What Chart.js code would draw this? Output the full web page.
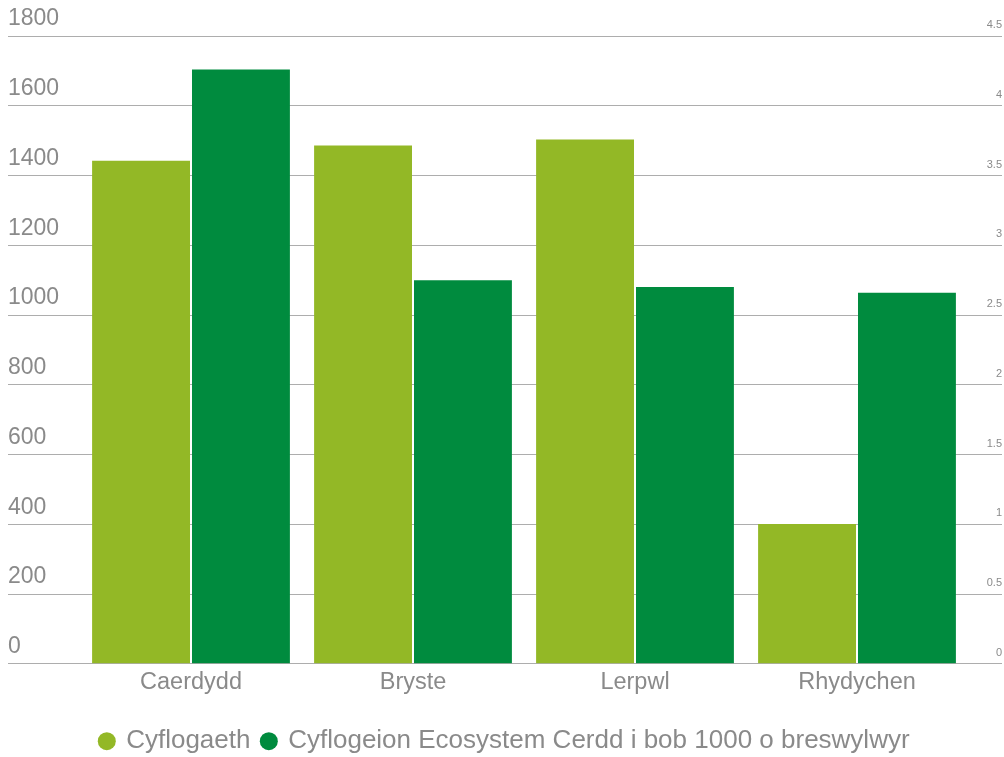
<!DOCTYPE html>
<html>
<head>
<meta charset="utf-8">
<script src="https://cdn.jsdelivr.net/npm/chart.js@4/dist/chart.umd.min.js"></script>
<style>
    html, body { margin: 0; padding: 0; background: #fff; }
    #wrap { width: 1004px; height: 757px; }
</style>
</head>
<body>
<div id="wrap"><canvas id="myChart"></canvas></div>
<script>
// Data

const cities = ["Caerdydd", "Bryste", "Lerpwl", "Rhydychen"];
const employment = [1442, 1486, 1503, 401];
const perThousand = [4.26, 2.75, 2.70, 2.66];

const seriesNames = [
    "Cyflogaeth",
    "Cyflogeion Ecosystem Cerdd i bob 1000 o breswylwyr"
];

const lightGreen = "#93b826";
const darkGreen = "#008b3e";
const textGrey = "#8a8a8a";
const lineGrey = "#adadad";
const font = "'Liberation Sans', Arial, sans-serif";

// Setup

const data = {
    labels: cities,
    datasets: [
        {
            label: seriesNames[0],
            data: employment,
            backgroundColor: lightGreen,
            yAxisID: "y",
            categoryPercentage: 0.9,
            barPercentage: 0.98
        },
        {
            label: seriesNames[1],
            data: perThousand,
            backgroundColor: darkGreen,
            yAxisID: "y1",
            categoryPercentage: 0.9,
            barPercentage: 0.98
        }
    ]
};

// Config

const config = {
    type: "bar",
    data,
    options: {
        responsive: true,
        maintainAspectRatio: false,
        animation: false,
        layout: {
            padding: { top: 36, left: 8, right: 2, bottom: -7.2 }
        },
        plugins: {
            tooltip: { enabled: false },
            legend: {
                position: "bottom",
                labels: {
                    usePointStyle: true,
                    pointStyle: "circle",
                    // circle radius = boxHeight * sqrt2 / 2 -> 9px
                    boxWidth: 12.73,
                    boxHeight: 12.73,
                    padding: 12,
                    color: textGrey,
                    font: { family: font, size: 26 }
                }
            }
        },
        scales: {
            x: {
                grid: { display: false, drawTicks: false },
                border: { display: false },
                ticks: {
                    color: textGrey,
                    padding: 5,
                    font: { family: font, size: 23.5 }
                },
                afterFit: (scale) => { scale.height = 52.4; }
            },
            y: {
                position: "left",
                min: 0,
                max: 1800,
                ticks: {
                    stepSize: 200,
                    crossAlign: "far",
                    labelOffset: -17,
                    color: textGrey,
                    font: { family: font, size: 23 },
                    callback: (v) => String(v)
                },
                grid: {
                    color: lineGrey,
                    tickColor: lineGrey,
                    tickLength: 72
                },
                border: { display: false },
                afterFit: (scale) => { scale.width = 72; }
            },
            y1: {
                position: "right",
                min: 0,
                max: 4.5,
                ticks: {
                    stepSize: 0.5,
                    crossAlign: "far",
                    labelOffset: -11,
                    color: textGrey,
                    font: { family: font, size: 11 },
                    callback: (v) => String(v)
                },
                grid: {
                    drawOnChartArea: false,
                    tickColor: lineGrey,
                    tickLength: 34
                },
                border: { display: false },
                afterFit: (scale) => { scale.width = 34; }
            }
        }
    }
};

// Render init block

const myChart = new Chart(document.getElementById("myChart"), config);
</script>
</body>
</html>
